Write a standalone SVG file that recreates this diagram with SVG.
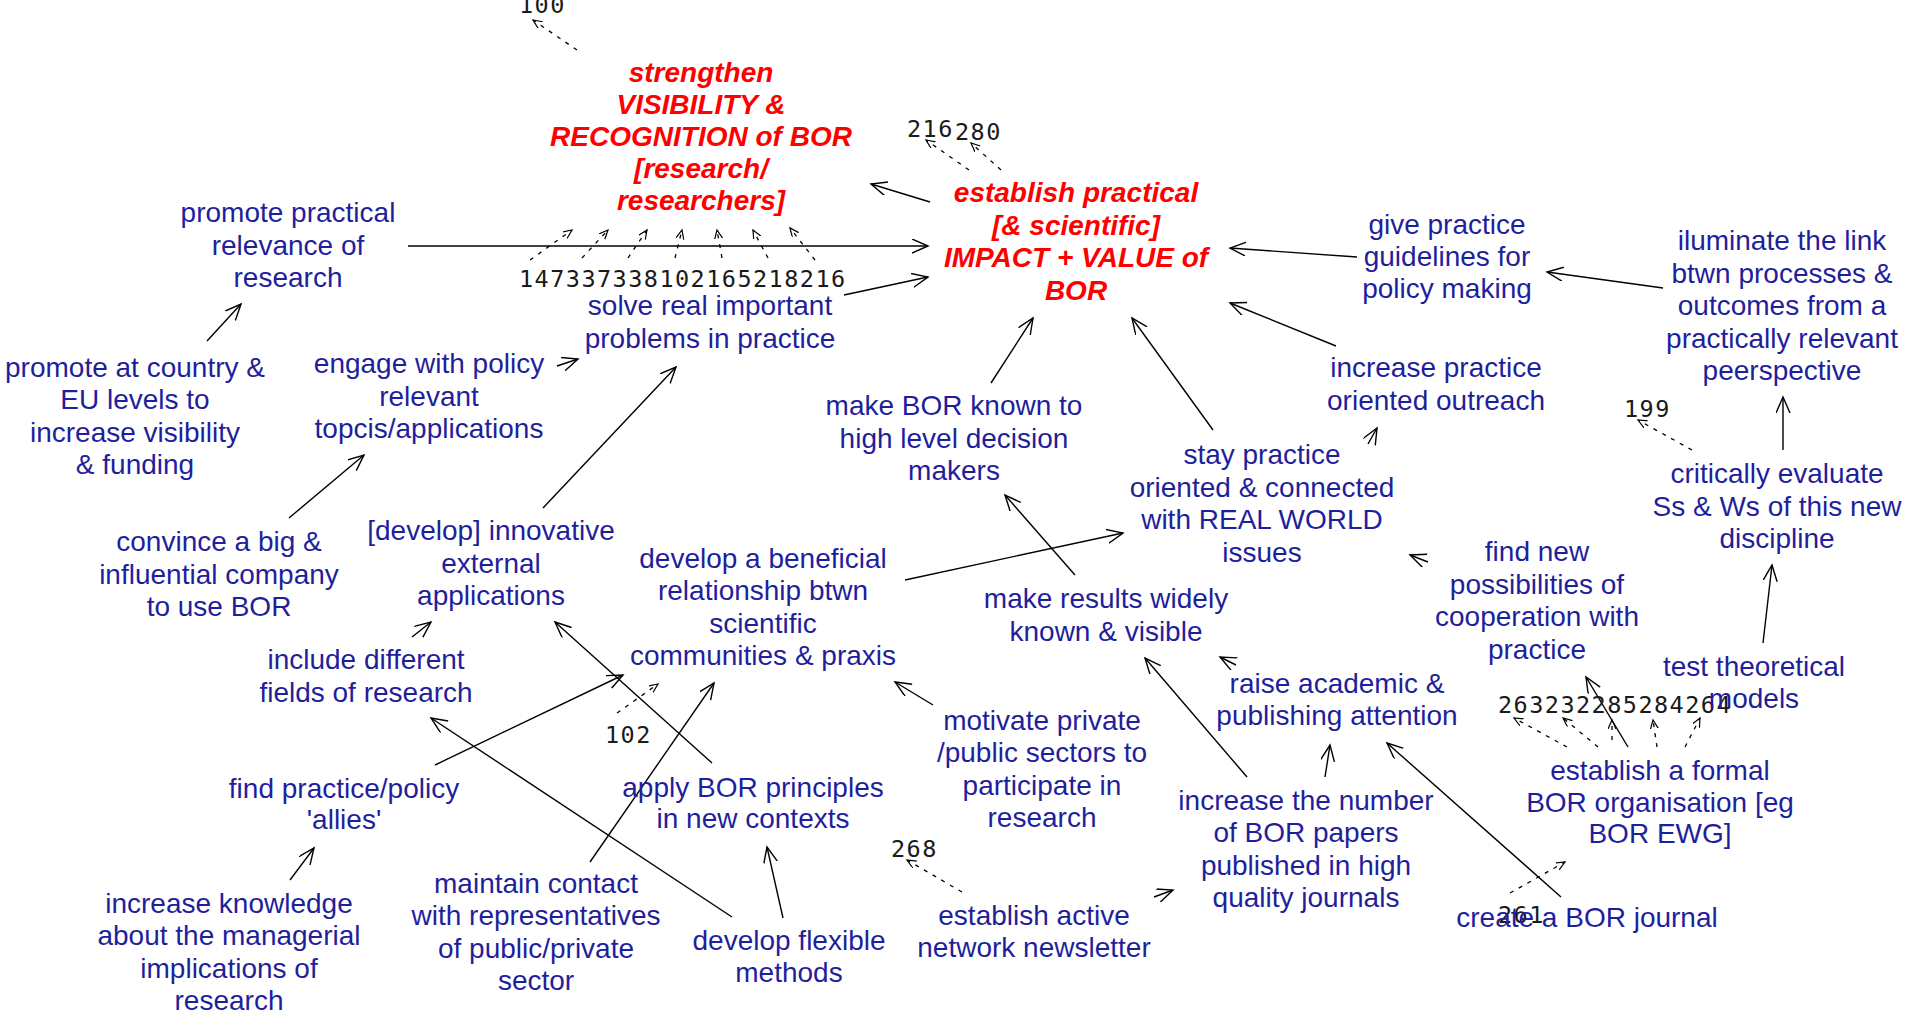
<svg xmlns="http://www.w3.org/2000/svg" width="1905" height="1020" viewBox="0 0 1905 1020">
<style>
.n{font-family:"Liberation Sans",Arial,sans-serif;font-size:28px;fill:#1f1f9c;text-anchor:middle}
.r{font-family:"Liberation Sans",Arial,sans-serif;font-size:28px;font-weight:bold;font-style:italic;fill:#ff0000;text-anchor:middle}
.num{font-family:"DejaVu Sans Mono","Liberation Mono",monospace;font-size:23.5px;letter-spacing:1.45px;fill:#1a1a1a}
.c{stroke:#000;stroke-width:1.4;fill:none;marker-end:url(#ah)}
.d{stroke:#000;stroke-width:1.3;fill:none;stroke-dasharray:4 6;marker-end:url(#dh)}
</style>
<defs>
<marker id="ah" markerUnits="userSpaceOnUse" markerWidth="18" markerHeight="16" refX="16" refY="7" orient="auto" viewBox="0 0 18 16">
<path d="M0,0 L16,7 L0,14" fill="none" stroke="#000" stroke-width="1.4"/>
</marker>
<marker id="dh" markerUnits="userSpaceOnUse" markerWidth="12" markerHeight="10" refX="9" refY="4" orient="auto" viewBox="0 0 12 10">
<path d="M0,0 L9,4 L0,8" fill="none" stroke="#000" stroke-width="1.2"/>
</marker>
</defs>
<rect width="1905" height="1020" fill="#fff"/>

<g id="connectors">
<path class="c" d="M408,246 L928,246"/>
<path class="c" d="M844,295 L928,277"/>
<path class="c" d="M930,202 L871,184"/>
<path class="c" d="M1357,257 L1230,248"/>
<path class="c" d="M1663,288 L1547,272"/>
<path class="c" d="M1336,346 L1230,303"/>
<path class="c" d="M991,383 L1033,318"/>
<path class="c" d="M1213,430 L1132,318"/>
<path class="c" d="M207,341 L241,304"/>
<path class="c" d="M557,366 L578,359"/>
<path class="c" d="M289,518 L364,455"/>
<path class="c" d="M543,508 L676,367"/>
<path class="c" d="M412,637 L431,622"/>
<path class="c" d="M712,763 L555,622"/>
<path class="c" d="M905,580 L1123,533"/>
<path class="c" d="M1075,575 L1005,495"/>
<path class="c" d="M1368,444 L1377,428"/>
<path class="c" d="M1428,562 L1410,555"/>
<path class="c" d="M1763,643 L1772,565"/>
<path class="c" d="M1783,450 L1783,397"/>
<path class="c" d="M1236,665 L1220,657"/>
<path class="c" d="M1247,777 L1145,658"/>
<path class="c" d="M1325,777 L1330,745"/>
<path class="c" d="M1561,897 L1387,743"/>
<path class="c" d="M1628,747 L1586,677"/>
<path class="c" d="M435,765 L623,675"/>
<path class="c" d="M290,880 L314,848"/>
<path class="c" d="M590,862 L714,683"/>
<path class="c" d="M732,917 L431,718"/>
<path class="c" d="M783,918 L767,847"/>
<path class="c" d="M933,705 L895,682"/>
<path class="c" d="M1154,897 L1173,890"/>
<!-- dashed links to other maps -->
<path class="d" d="M577,50 L533,20"/>
<path class="d" d="M969,170 L926,140"/>
<path class="d" d="M1001,170 L971,143"/>
<path class="d" d="M1692,450 L1638,420"/>
<path class="d" d="M617,713 L658,684"/>
<path class="d" d="M962,892 L907,860"/>
<path class="d" d="M1510,893 L1565,862"/>
<path class="d" d="M1567,747 L1514,718"/>
<path class="d" d="M1598,747 L1563,718"/>
<path class="d" d="M1612,740 L1612,720"/>
<path class="d" d="M1657,747 L1653,720"/>
<path class="d" d="M1685,747 L1700,718"/>
<path class="d" d="M530,260 L572,230"/>
<path class="d" d="M582,258 L608,230"/>
<path class="d" d="M628,258 L647,230"/>
<path class="d" d="M675,258 L682,230"/>
<path class="d" d="M722,258 L717,230"/>
<path class="d" d="M768,258 L753,230"/>
<path class="d" d="M815,260 L790,228"/>
</g>

<g id="refs">
<text class="num" x="519" y="13">100</text>
<text class="num" x="907" y="137">216</text>
<text class="num" x="955" y="140">280</text>
<text class="num" x="1624" y="417">199</text>
<text class="num" x="605" y="743">102</text>
<text class="num" x="891" y="857">268</text>
<text class="num" x="1498" y="923">261</text>
<text class="num" x="1498" y="713">263</text>
<text class="num" x="1544.8" y="713">232</text>
<text class="num" x="1591.6" y="713">285</text>
<text class="num" x="1638.4" y="713">284</text>
<text class="num" x="1685.2" y="713">264</text>
<text class="num" x="519" y="287">147</text>
<text class="num" x="565.8" y="287">337</text>
<text class="num" x="612.6" y="287">338</text>
<text class="num" x="659.4" y="287">102</text>
<text class="num" x="706.2" y="287">165</text>
<text class="num" x="753" y="287">218</text>
<text class="num" x="799.8" y="287">216</text>
</g>

<g id="n-visibility"><text class="r" x="701" y="82">strengthen<tspan x="701" dy="32">VISIBILITY &amp;</tspan><tspan x="701" dy="32">RECOGNITION of BOR</tspan><tspan x="701" dy="32">[research/</tspan><tspan x="701" dy="32">researchers]</tspan></text></g>
<g id="n-impact"><text class="r" x="1076" y="202">establish practical<tspan x="1076" dy="32.5">[&amp; scientific]</tspan><tspan x="1076" dy="32.5">IMPACT + VALUE of</tspan><tspan x="1076" dy="32.5">BOR</tspan></text></g>
<g id="n-promote-relevance"><text class="n" x="288" y="222">promote practical<tspan x="288" dy="32.5">relevance of</tspan><tspan x="288" dy="32.5">research</tspan></text></g>
<g id="n-solve"><text class="n" x="710" y="315">solve real important<tspan x="710" dy="32.5">problems in practice</tspan></text></g>
<g id="n-promote-eu"><text class="n" x="135" y="377">promote at country &amp;<tspan x="135" dy="32.3">EU levels to</tspan><tspan x="135" dy="32.3">increase visibility</tspan><tspan x="135" dy="32.3">&amp; funding</tspan></text></g>
<g id="n-engage"><text class="n" x="429" y="373">engage with policy<tspan x="429" dy="32.5">relevant</tspan><tspan x="429" dy="32.5">topcis/applications</tspan></text></g>
<g id="n-guidelines"><text class="n" x="1447" y="234">give practice<tspan x="1447" dy="32">guidelines for</tspan><tspan x="1447" dy="32">policy making</tspan></text></g>
<g id="n-iluminate"><text class="n" x="1782" y="250">iluminate the link<tspan x="1782" dy="32.5">btwn processes &amp;</tspan><tspan x="1782" dy="32.5">outcomes from a</tspan><tspan x="1782" dy="32.5">practically relevant</tspan><tspan x="1782" dy="32.5">peerspective</tspan></text></g>
<g id="n-outreach"><text class="n" x="1436" y="377">increase practice<tspan x="1436" dy="33">oriented outreach</tspan></text></g>
<g id="n-known"><text class="n" x="954" y="415">make BOR known to<tspan x="954" dy="32.5">high level decision</tspan><tspan x="954" dy="32.5">makers</tspan></text></g>
<g id="n-stay"><text class="n" x="1262" y="464">stay practice<tspan x="1262" dy="32.5">oriented &amp; connected</tspan><tspan x="1262" dy="32.5">with REAL WORLD</tspan><tspan x="1262" dy="32.5">issues</tspan></text></g>
<g id="n-evaluate"><text class="n" x="1777" y="483">critically evaluate<tspan x="1777" dy="32.5">Ss &amp; Ws of this new</tspan><tspan x="1777" dy="32.5">discipline</tspan></text></g>
<g id="n-convince"><text class="n" x="219" y="551">convince a big &amp;<tspan x="219" dy="32.5">influential company</tspan><tspan x="219" dy="32.5">to use BOR</tspan></text></g>
<g id="n-innovative"><text class="n" x="491" y="540">[develop] innovative<tspan x="491" dy="32.5">external</tspan><tspan x="491" dy="32.5">applications</tspan></text></g>
<g id="n-relationship"><text class="n" x="763" y="568">develop a beneficial<tspan x="763" dy="32.3">relationship btwn</tspan><tspan x="763" dy="32.3">scientific</tspan><tspan x="763" dy="32.3">communities &amp; praxis</tspan></text></g>
<g id="n-results"><text class="n" x="1106" y="608">make results widely<tspan x="1106" dy="32.5">known &amp; visible</tspan></text></g>
<g id="n-cooperation"><text class="n" x="1537" y="561">find new<tspan x="1537" dy="32.5">possibilities of</tspan><tspan x="1537" dy="32.5">cooperation with</tspan><tspan x="1537" dy="32.5">practice</tspan></text></g>
<g id="n-fields"><text class="n" x="366" y="669">include different<tspan x="366" dy="33">fields of research</tspan></text></g>
<g id="n-academic"><text class="n" x="1337" y="693">raise academic &amp;<tspan x="1337" dy="32">publishing attention</tspan></text></g>
<g id="n-test"><text class="n" x="1754" y="676">test theoretical<tspan x="1754" dy="32">models</tspan></text></g>
<g id="n-allies"><text class="n" x="344" y="798">find practice/policy<tspan x="344" dy="31">'allies'</tspan></text></g>
<g id="n-apply"><text class="n" x="753" y="797">apply BOR principles<tspan x="753" dy="31">in new contexts</tspan></text></g>
<g id="n-motivate"><text class="n" x="1042" y="730">motivate private<tspan x="1042" dy="32.3">/public sectors to</tspan><tspan x="1042" dy="32.3">participate in</tspan><tspan x="1042" dy="32.3">research</tspan></text></g>
<g id="n-organisation"><text class="n" x="1660" y="780">establish a formal<tspan x="1660" dy="31.7">BOR organisation [eg</tspan><tspan x="1660" dy="31.7">BOR EWG]</tspan></text></g>
<g id="n-papers"><text class="n" x="1306" y="810">increase the number<tspan x="1306" dy="32.3">of BOR papers</tspan><tspan x="1306" dy="32.3">published in high</tspan><tspan x="1306" dy="32.3">quality journals</tspan></text></g>
<g id="n-knowledge"><text class="n" x="229" y="913">increase knowledge<tspan x="229" dy="32.3">about the managerial</tspan><tspan x="229" dy="32.3">implications of</tspan><tspan x="229" dy="32.3">research</tspan></text></g>
<g id="n-contact"><text class="n" x="536" y="893">maintain contact<tspan x="536" dy="32.3">with representatives</tspan><tspan x="536" dy="32.3">of public/private</tspan><tspan x="536" dy="32.3">sector</tspan></text></g>
<g id="n-methods"><text class="n" x="789" y="950">develop flexible<tspan x="789" dy="32">methods</tspan></text></g>
<g id="n-newsletter"><text class="n" x="1034" y="925">establish active<tspan x="1034" dy="32">network newsletter</tspan></text></g>
<g id="n-journal"><text class="n" x="1587" y="927">create a BOR journal</text></g>
</svg>
